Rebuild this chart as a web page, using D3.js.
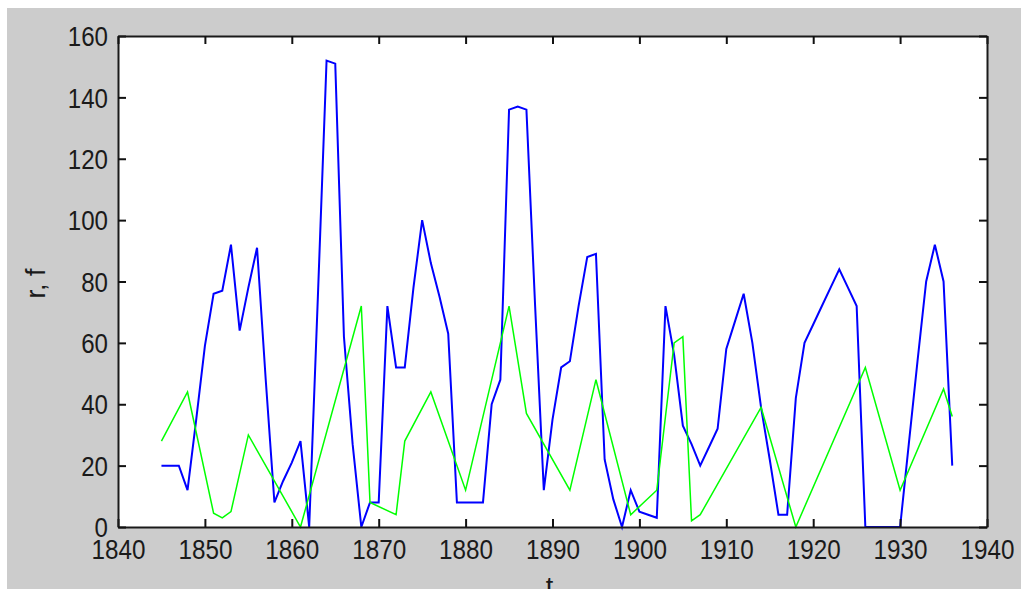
<!DOCTYPE html>
<html>
<head>
<meta charset="utf-8">
<script src="https://cdn.jsdelivr.net/npm/d3@7"></script>
<style>
    body { margin: 0; background: #ffffff; }
    svg { display: block; }
</style>
</head>
<body>
<div id="chart"></div>
<script>
// r series, one value per year
var rYears = [1845, 1846, 1847, 1848, 1849, 1850, 1851, 1852, 1853, 1854,
    1855, 1856, 1857, 1858, 1859, 1860, 1861, 1862, 1863, 1864,
    1865, 1866, 1867, 1868, 1869, 1870, 1871, 1872, 1873, 1874,
    1875, 1876, 1877, 1878, 1879, 1880, 1881, 1882, 1883, 1884,
    1885, 1886, 1887, 1888, 1889, 1890, 1891, 1892, 1893, 1894,
    1895, 1896, 1897, 1898, 1899, 1900, 1901, 1902, 1903, 1904,
    1905, 1906, 1907, 1908, 1909, 1910, 1911, 1912, 1913, 1914,
    1915, 1916, 1917, 1918, 1919, 1920, 1921, 1922, 1923, 1924,
    1925, 1926, 1927, 1928, 1929, 1930, 1931, 1932, 1933, 1934,
    1935, 1936];
var rValues = [20, 20, 20, 12, 35, 59, 76, 77, 92, 64,
    78, 91, 48, 8, 15, 21, 28, 0, 75, 152,
    151, 62, 27, 0, 8, 8, 72, 52, 52, 78,
    100, 86, 75, 63, 8, 8, 8, 8, 40, 48,
    136, 137, 136, 72, 12, 35, 52, 54, 72, 88,
    89, 22, 9, 0, 12, 5, 4, 3, 72, 56,
    33, 27, 20, 26, 32, 58, 67, 76, 60, 39,
    22, 4, 4, 42, 60, 66, 72, 78, 84, 78,
    72, 0, 0, 0, 0, 0, 27, 54, 80, 92,
    80, 20];

// f series, only where the line bends
var fYears = [1845, 1848, 1851, 1852, 1853, 1855, 1861, 1868, 1869, 1872,
    1873, 1876, 1880, 1885, 1887, 1892, 1895, 1899, 1902, 1904,
    1905, 1906, 1907, 1914, 1918, 1926, 1930, 1935, 1936];
var fValues = [28, 44, 4.5, 3, 5, 30, 0, 72, 8, 4,
    28, 44, 12, 72, 37, 12, 48, 4, 12, 60,
    62, 2, 4, 39, 0, 52, 12, 45, 36];

var xTicks = [1840, 1850, 1860, 1870, 1880, 1890, 1900, 1910, 1920, 1930, 1940];
var yTicks = [0, 20, 40, 60, 80, 100, 120, 140, 160];

(function () {
    var width = 1021;
    var height = 589;
    var plotLeft = 118, plotTop = 36, plotRight = 987, plotBottom = 527;
    var fontFamily = "'Liberation Sans', Arial, sans-serif";

    var svg = d3.select("#chart")
        .append("svg")
        .attr("xmlns", "http://www.w3.org/2000/svg")
        .attr("width", width)
        .attr("height", height);

    //figure background
    svg.append("rect")
        .attr("x", 7)
        .attr("y", 8)
        .attr("width", width - 7)
        .attr("height", height - 8)
        .attr("fill", "#cccccc");

    svg.append("rect")
        .attr("x", plotLeft)
        .attr("y", plotTop)
        .attr("width", plotRight - plotLeft)
        .attr("height", plotBottom - plotTop)
        .attr("fill", "#ffffff");

    var x = d3.scaleLinear().domain([1840, 1940]).range([plotLeft, plotRight]);
    var y = d3.scaleLinear().domain([0, 160]).range([plotBottom, plotTop]);

    var plot = svg.append("g").attr("class", "lines");

    var rLine = d3.line()
        .x(function (d, i) { return x(rYears[i]); })
        .y(function (d) { return y(d); });

    var fLine = d3.line()
        .x(function (d, i) { return x(fYears[i]); })
        .y(function (d) { return y(d); });

    plot.append("path")
        .datum(rValues)
        .attr("d", rLine)
        .attr("fill", "none")
        .attr("stroke", "#0000ff")
        .attr("stroke-width", 2);

    plot.append("path")
        .datum(fValues)
        .attr("d", fLine)
        .attr("fill", "none")
        .attr("stroke", "#00ff00")
        .attr("stroke-width", 1.5);

    //box axes, ticks pointing inwards
    function styleAxis(g) {
        g.select(".domain").attr("stroke", "#1a1a1a").attr("stroke-width", 2);
        g.selectAll(".tick line").attr("stroke", "#111111").attr("stroke-width", 2);
    }

    var xAxis = svg.append("g")
        .attr("transform", "translate(0," + plotBottom + ")")
        .call(d3.axisBottom(x).tickValues(xTicks).tickFormat(d3.format("d"))
            .tickSizeInner(-8).tickSizeOuter(0));
    xAxis.call(styleAxis);
    xAxis.selectAll(".tick text")
        .attr("y", 32)
        .attr("dy", 0)
        .attr("fill", "#1a1a1a")
        .attr("font-family", fontFamily)
        .attr("font-size", "27px")
        .attr("textLength", 54)
        .attr("lengthAdjust", "spacingAndGlyphs");

    var yAxis = svg.append("g")
        .attr("transform", "translate(" + plotLeft + ",0)")
        .call(d3.axisLeft(y).tickValues(yTicks)
            .tickSizeInner(-8).tickSizeOuter(0));
    yAxis.call(styleAxis);
    yAxis.selectAll(".tick text")
        .attr("x", -10)
        .attr("dy", "0.36em")
        .attr("fill", "#1a1a1a")
        .attr("font-family", fontFamily)
        .attr("font-size", "27px")
        .attr("textLength", function (d) { return String(d).length * 13.4; })
        .attr("lengthAdjust", "spacingAndGlyphs");

    var topAxis = svg.append("g")
        .attr("transform", "translate(0," + plotTop + ")")
        .call(d3.axisTop(x).tickValues(xTicks).tickFormat("")
            .tickSizeInner(-8).tickSizeOuter(0));
    topAxis.call(styleAxis);

    var rightAxis = svg.append("g")
        .attr("transform", "translate(" + plotRight + ",0)")
        .call(d3.axisRight(y).tickValues(yTicks).tickFormat("")
            .tickSizeInner(-8).tickSizeOuter(0));
    rightAxis.call(styleAxis);

    //axis labels
    svg.append("text")
        .attr("x", (plotLeft + plotRight) / 2 - 3)
        .attr("y", 596)
        .attr("text-anchor", "middle")
        .attr("fill", "#1a1a1a")
        .attr("font-family", fontFamily)
        .attr("font-size", "27px")
        .text("t");

    svg.append("text")
        .attr("transform", "translate(45," + ((plotTop + plotBottom) / 2 + 2) + ") rotate(-90)")
        .attr("text-anchor", "middle")
        .attr("fill", "#1a1a1a")
        .attr("font-family", fontFamily)
        .attr("font-size", "27px")
        .text("r, f");
})();
</script>
</body>
</html>
